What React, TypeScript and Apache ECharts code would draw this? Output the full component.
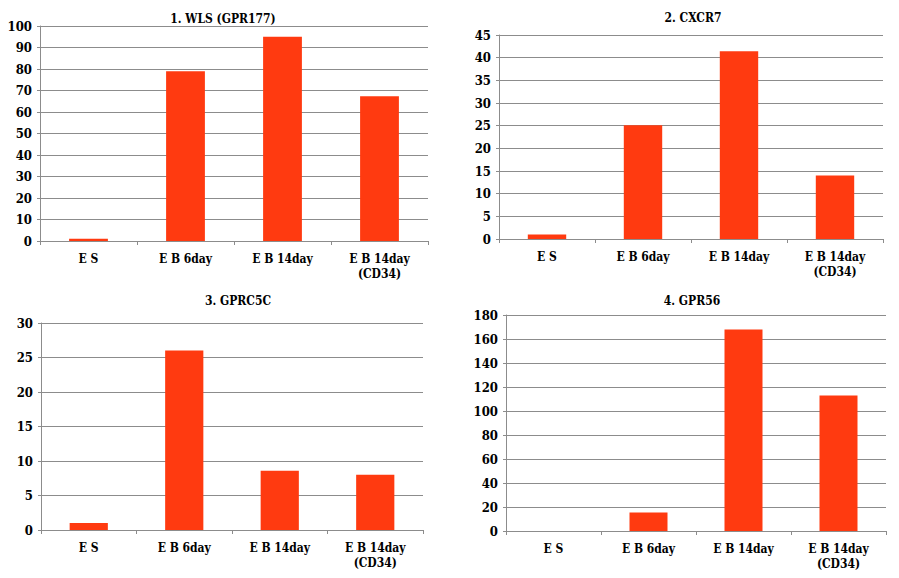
import React, { useEffect, useRef } from "react";
import * as echarts from "echarts";

const categories = ["E S", "E B 6day", "E B 14day", "E B 14day\n(CD34)"];
const titles = ["1. WLS (GPR177)", "2. CXCR7", "3. GPRC5C", "4. GPR56"];
const wlsValues = [1, 79, 95, 67.3];
const cxcr7Values = [1, 25.1, 41.4, 14];
const gprc5cValues = [1, 26, 8.6, 8];
const gpr56Values = [0, 15.5, 168, 113];
const yMax = [100, 45, 30, 180];
const yInterval = [10, 5, 5, 20];

const seriesValues = [wlsValues, cxcr7Values, gprc5cValues, gpr56Values];

const grids = [
  { left: 40, top: 26, width: 388, height: 215 },
  { left: 499, top: 35, width: 384, height: 204 },
  { left: 41, top: 323, width: 382, height: 207 },
  { left: 506, top: 315, width: 380, height: 216 },
];
const titlePos = [
  { x: 218, y: 15 },
  { x: 688, y: 14 },
  { x: 233, y: 297 },
  { x: 687, y: 297 },
];

const FONT = "'DejaVu Serif Condensed', 'DejaVu Serif'";
const BAR = "#FF3A10";
const GRIDLINE = "#8c8c8c";

export default function App() {
  const ref = useRef<HTMLDivElement>(null);
  useEffect(() => {
    if (!ref.current) return;
    const chart = echarts.init(ref.current, null, { renderer: "svg" });
    chart.setOption({
      animation: false,
      backgroundColor: "#ffffff",
      textStyle: { fontFamily: FONT },
      title: titles.map((t, i) => ({
        text: t,
        left: titlePos[i].x,
        top: titlePos[i].y - 7,
        textAlign: "center",
        textStyle: { fontFamily: FONT, fontWeight: "bold", fontSize: 12, color: "#000" },
      })),
      grid: grids.map((g) => ({ ...g, containLabel: false })),
      xAxis: grids.map((_, i) => ({
        type: "category",
        gridIndex: i,
        data: categories,
        axisLine: { show: true, lineStyle: { color: GRIDLINE, width: 1 } },
        axisTick: { show: true, length: 4, lineStyle: { color: GRIDLINE } },
        axisLabel: {
          fontFamily: FONT,
          fontWeight: "bold",
          fontSize: 12,
          color: "#000",
          margin: 10,
          lineHeight: 15,
          interval: 0,
        },
      })),
      yAxis: grids.map((_, i) => ({
        type: "value",
        gridIndex: i,
        min: 0,
        max: yMax[i],
        interval: yInterval[i],
        axisLine: { show: true, lineStyle: { color: GRIDLINE, width: 1 } },
        axisTick: { show: true, length: 3, lineStyle: { color: GRIDLINE } },
        splitLine: { show: true, lineStyle: { color: GRIDLINE, width: 1 } },
        axisLabel: {
          fontFamily: FONT,
          fontWeight: "bold",
          fontSize: 13,
          color: "#000",
          margin: 8,
        },
      })),
      series: seriesValues.map((vals, i) => ({
        type: "bar",
        xAxisIndex: i,
        yAxisIndex: i,
        data: vals,
        barWidth: "40%",
        itemStyle: { color: BAR },
      })),
    });
    return () => chart.dispose();
  }, []);
  return (
    <div
      ref={ref}
      style={{ position: "fixed", left: 0, top: 0, width: 899, height: 578 }}
    />
  );
}
